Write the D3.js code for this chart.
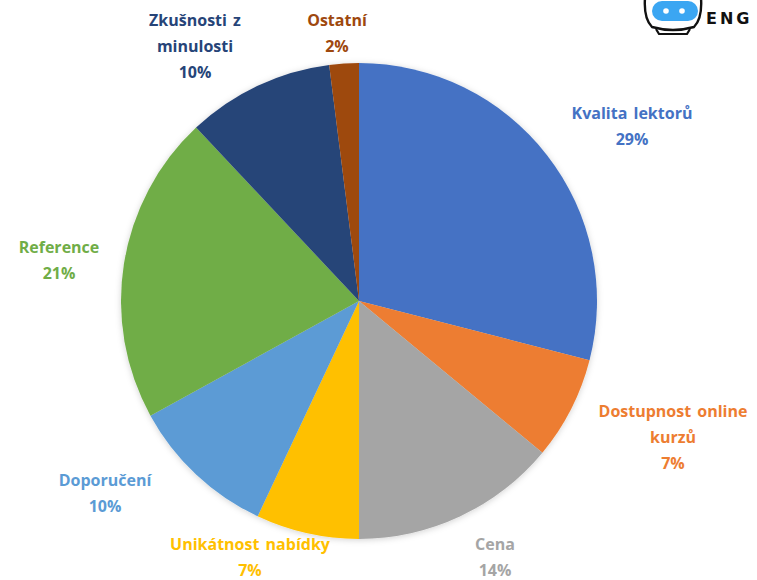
<!DOCTYPE html>
<html>
<head>
<meta charset="utf-8">
<script src="https://cdn.jsdelivr.net/npm/d3@7"></script>
<style>
  body { margin: 0; background: #fff; }
  svg { display: block; }
</style>
</head>
<body>
<div id="chart"></div>
<script>
const categories = ["Kvalita lektorů", "Dostupnost online kurzů", "Cena", "Unikátnost nabídky",
  "Doporučení", "Reference", "Zkušnosti z minulosti", "Ostatní"];
const shares = [29, 7, 14, 7, 10, 21, 10, 2];
const labelLines = [
  ["Kvalita lektorů"],
  ["Dostupnost online", "kurzů"],
  ["Cena"],
  ["Unikátnost nabídky"],
  ["Doporučení"],
  ["Reference"],
  ["Zkušnosti z", "minulosti"],
  ["Ostatní"]
];
const sliceColors = ["#4472C4", "#ED7D31", "#A5A5A5", "#FFC000", "#5B9BD5", "#70AD47", "#264478", "#9E480E"];

// label placement (Excel "best fit" look), first line baseline
const labelAnchors = [[632, 119], [673, 417], [495, 550], [250, 550], [105, 486], [59, 253], [195, 26], [337, 26]];

const width = 757, height = 580;
const cx = 359, cy = 301, radius = 238;
const lineGap = 26;

const svg = d3.select("#chart").append("svg")
  .attr("width", width)
  .attr("height", height);

const defs = svg.append("defs");
const shadow = defs.append("filter")
  .attr("id", "soft")
  .attr("x", "-10%").attr("y", "-10%")
  .attr("width", "120%").attr("height", "120%");
shadow.append("feDropShadow")
  .attr("dx", 0).attr("dy", 1)
  .attr("stdDeviation", 3)
  .attr("flood-color", "#000")
  .attr("flood-opacity", 0.18);

const pie = d3.pie().sort(null).value(d => d);
const arc = d3.arc().innerRadius(0).outerRadius(radius);

const pieG = svg.append("g")
  .attr("transform", `translate(${cx}, ${cy})`)
  .attr("filter", "url(#soft)");

pieG.selectAll("path")
  .data(pie(shares))
  .enter()
  .append("path")
    .attr("d", arc)
    .attr("fill", (d, i) => sliceColors[i]);

// labels
const labels = svg.append("g")
  .style("font-family", "'Open Sans', Lato, sans-serif")
  .style("font-weight", "bold")
  .style("font-size", "16px")
  .attr("text-anchor", "middle");

categories.forEach((c, i) => {
  const lines = labelLines[i].concat([shares[i] + "%"]);
  const t = labels.append("text")
    .attr("fill", sliceColors[i])
    .style("word-spacing", "2px");
  lines.forEach((ln, j) => {
    t.append("tspan")
      .attr("x", labelAnchors[i][0])
      .attr("y", labelAnchors[i][1] + j * lineGap)
      .text(ln);
  });
});

// logo in the corner
const logo = svg.append("g");
logo.append("path")
  .attr("d", "M645,-2 C644,12 647,22 652,27 Q673,33 694,27 C699,22 702,12 701,-2")
  .attr("fill", "none")
  .attr("stroke", "#111")
  .attr("stroke-width", 2.4);
logo.append("path")
  .attr("d", "M656,29 L659,34 L687,34 L690,29")
  .attr("fill", "none")
  .attr("stroke", "#111")
  .attr("stroke-width", 2.2)
  .attr("stroke-linejoin", "round");
logo.append("rect")
  .attr("x", 652).attr("y", 1)
  .attr("width", 46).attr("height", 20)
  .attr("rx", 10)
  .attr("fill", "#3BA6F2");
logo.selectAll("circle.eye")
  .data([666, 682])
  .enter()
  .append("circle")
    .attr("class", "eye")
    .attr("cx", d => d)
    .attr("cy", 11)
    .attr("r", 2.8)
    .attr("fill", "#fff");
logo.append("text")
  .attr("x", 706)
  .attr("y", 24)
  .style("font-family", "'DejaVu Sans', sans-serif")
  .style("font-weight", "bold")
  .style("font-size", "16px")
  .style("letter-spacing", "3px")
  .attr("fill", "#111")
  .text("ENG");
</script>
</body>
</html>
